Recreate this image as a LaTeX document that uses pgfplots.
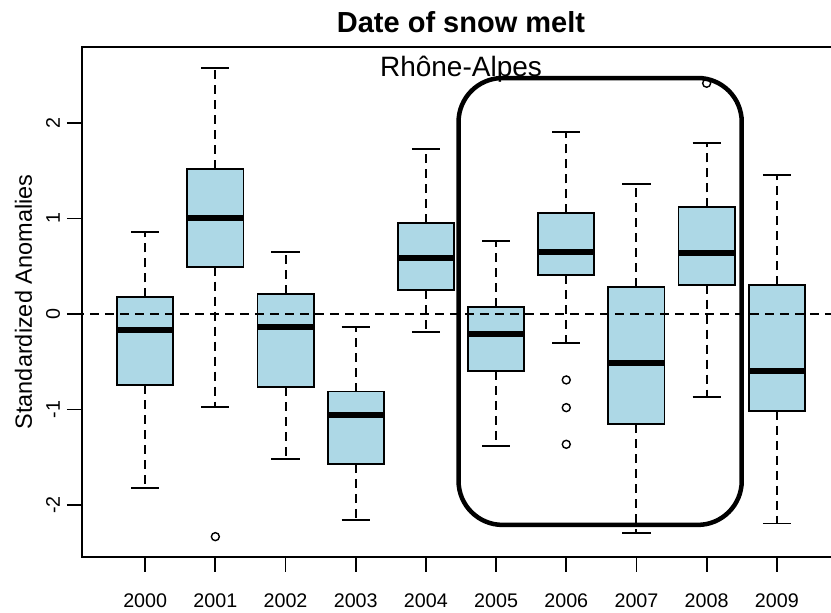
\documentclass[border=0pt]{standalone}
\usepackage{fontspec}
\setmainfont{Liberation Sans}
\usepackage{pgfplots}
\pgfplotsset{compat=1.18}
\usepgfplotslibrary{statistics}
\definecolor{lightblue}{HTML}{ADD8E6}

\pgfplotsset{
  rbox/.style={
    black,
    boxplot prepared={#1},
    boxplot/draw direction=y,
    boxplot/box extend=0.8,
    boxplot/whisker extend=0.4,
    boxplot/every box/.style={fill=lightblue, draw=black, line width=0.9pt},
    boxplot/every median/.style={line width=3pt, black},
    boxplot/draw/lower whisker/.code={%
      \draw[dash pattern=on 4.5pt off 3pt, line width=1pt]
        (boxplot box cs:\pgfplotsboxplotvalue{lower quartile},0.5) --
        (boxplot box cs:\pgfplotsboxplotvalue{lower whisker},0.5);
      \draw[line width=0.9pt]
        (boxplot whisker cs:\pgfplotsboxplotvalue{lower whisker},0) --
        (boxplot whisker cs:\pgfplotsboxplotvalue{lower whisker},1);
    },
    boxplot/draw/upper whisker/.code={%
      \draw[dash pattern=on 4.5pt off 3pt, line width=1pt]
        (boxplot box cs:\pgfplotsboxplotvalue{upper quartile},0.5) --
        (boxplot box cs:\pgfplotsboxplotvalue{upper whisker},0.5);
      \draw[line width=0.9pt]
        (boxplot whisker cs:\pgfplotsboxplotvalue{upper whisker},0) --
        (boxplot whisker cs:\pgfplotsboxplotvalue{upper whisker},1);
    },
    mark=o, mark size=2pt, mark options={line width=0.7pt, black, solid},
  },
}

\begin{document}
\begin{tikzpicture}
\useasboundingbox (0,0) rectangle (415.5pt,306.5pt);
\clip (0,0) rectangle (415.5pt,306.5pt);
\begin{axis}[
  at={(41pt,28pt)}, anchor=south west,
  scale only axis, width=379pt, height=255pt,
  xmin=0.1, xmax=10.9, ymin=-2.545, ymax=2.796,
  xtick={1,2,3,4,5,6,7,8,9,10},
  xticklabels={2000,2001,2002,2003,2004,2005,2006,2007,2008,2009},
  ytick={-2,-1,0,1,2},
  yticklabels={-2,-1,0,1,2},
  tick align=outside, major tick length=7.5pt, tick pos=left,
  tick style={line width=0.9pt, black},
  axis line style={line width=0.9pt},
  x tick label style={font=\fontsize{9.85}{11}\selectfont, anchor=base, yshift=-18pt},
  y tick label style={font=\fontsize{9.85}{11}\selectfont, rotate=90, anchor=base, yshift=3.5pt},
  ylabel={Standardized Anomalies},
  every axis y label/.style={at={(rel axis cs:0,0.5)}, rotate=90, anchor=base, yshift=25pt, font=\fontsize{11.75}{13}\selectfont},
  title={\textbf{Date of snow melt}},
  every axis title/.style={at={(rel axis cs:0.5,1)}, anchor=base, yshift=7pt, font=\fontsize{14.5}{16}\selectfont},
]
\addplot[rbox={draw position=1, lower whisker=-1.826, lower quartile=-0.747, median=-0.171, upper quartile=0.175, upper whisker=0.862}] coordinates {};
\addplot[rbox={draw position=2, lower whisker=-0.977, lower quartile=0.496, median=1.002, upper quartile=1.522, upper whisker=2.579}] table[row sep=\\, y index=0] {data\\ -2.332\\};
\addplot[rbox={draw position=3, lower whisker=-1.522, lower quartile=-0.768, median=-0.133, upper quartile=0.209, upper whisker=0.653}] coordinates {};
\addplot[rbox={draw position=4, lower whisker=-2.157, lower quartile=-1.571, median=-1.054, upper quartile=-0.813, upper whisker=-0.133}] coordinates {};
\addplot[rbox={draw position=5, lower whisker=-0.192, lower quartile=0.248, median=0.583, upper quartile=0.956, upper whisker=1.728}] coordinates {};
\addplot[rbox={draw position=6, lower whisker=-1.382, lower quartile=-0.597, median=-0.209, upper quartile=0.077, upper whisker=0.768}] coordinates {};
\addplot[rbox={draw position=7, lower whisker=-0.307, lower quartile=0.405, median=0.653, upper quartile=1.054, upper whisker=1.906}] table[row sep=\\, y index=0] {data\\ -0.691\\ -0.981\\ -1.365\\};
\addplot[rbox={draw position=8, lower whisker=-2.297, lower quartile=-1.155, median=-0.517, upper quartile=0.286, upper whisker=1.365}] coordinates {};
\addplot[rbox={draw position=9, lower whisker=-0.866, lower quartile=0.307, median=0.635, upper quartile=1.117, upper whisker=1.787}] table[row sep=\\, y index=0] {data\\ 2.416\\};
\addplot[rbox={draw position=10, lower whisker=-2.195, lower quartile=-1.015, median=-0.593, upper quartile=0.303, upper whisker=1.458}] coordinates {};
\addplot[black, line width=0.9pt, dash pattern=on 4.5pt off 3pt, forget plot] coordinates {(0,0) (11,0)};
\draw[line width=2.25pt, rounded corners=22pt] (axis cs:5.465,2.471) rectangle (axis cs:9.50,-2.209);
\node[anchor=base, font=\fontsize{14}{16}\selectfont] at (rel axis cs:0.5,1) [yshift=-15pt] {Rhône-Alpes};
\end{axis}
\end{tikzpicture}
\end{document}
